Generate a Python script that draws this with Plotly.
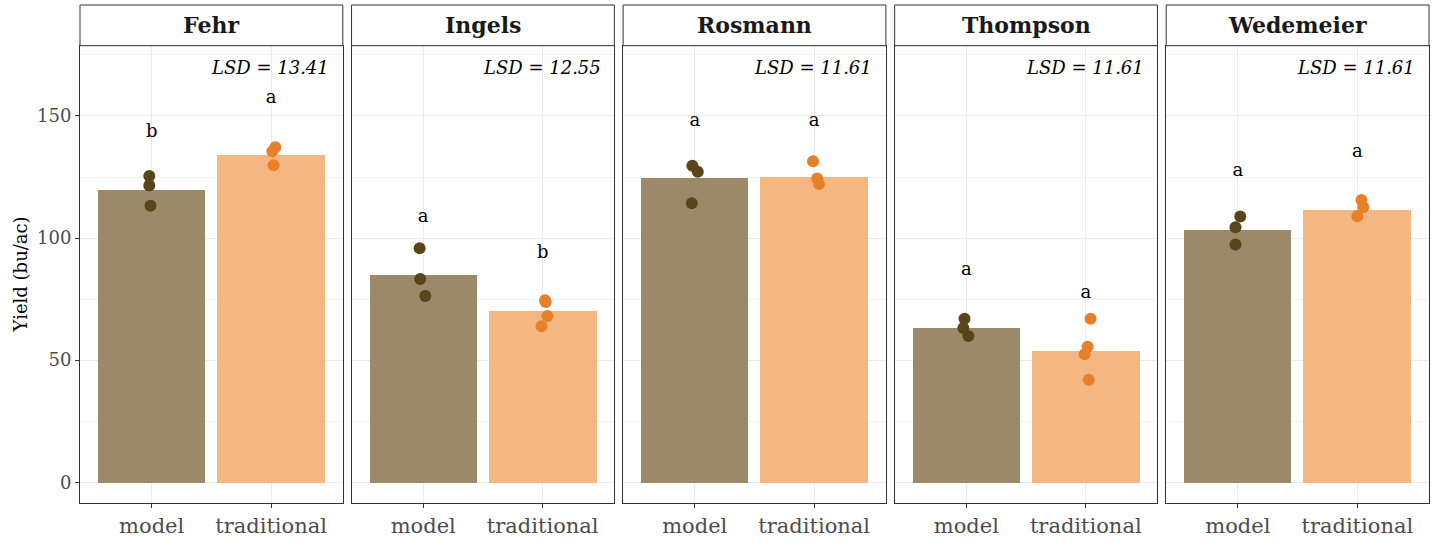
import plotly.graph_objects as go

sites = ["Fehr", "Ingels", "Rosmann", "Thompson", "Wedemeier"]
treatments = ["model", "traditional"]
lsd = [13.41, 12.55, 11.61, 11.61, 11.61]

bar_model = [120.0, 85.0, 124.7, 63.4, 103.4]
bar_trad = [134.0, 70.1, 125.0, 54.0, 111.5]

pts_model = [
    [125.4, 121.5, 113.2],
    [95.8, 83.2, 76.3],
    [129.6, 127.2, 114.3],
    [67.0, 63.2, 59.9],
    [108.8, 104.4, 97.4],
]
jit_model = [
    [-0.02, -0.02, -0.01],
    [-0.03, -0.025, 0.017],
    [-0.02, 0.025, -0.025],
    [-0.015, -0.025, 0.017],
    [0.02, -0.02, -0.02],
]
pts_trad = [
    [137.2, 135.6, 129.8],
    [74.5, 73.8, 68.1, 63.9],
    [131.5, 124.4, 122.1],
    [67.0, 55.5, 52.4, 42.0],
    [115.6, 112.6, 108.9],
]
jit_trad = [
    [0.035, 0.01, 0.02],
    [0.02, 0.025, 0.04, -0.01],
    [-0.01, 0.025, 0.04],
    [0.04, 0.015, -0.01, 0.025],
    [0.035, 0.05, 0.0],
]
letters_model = ["b", "a", "a", "a", "a"]
letters_trad = ["a", "b", "a", "a", "a"]
letter_y_model = [143.4, 108.6, 147.8, 86.6, 127.2]
letter_y_trad = [157.3, 93.6, 147.8, 77.4, 135.0]

C_MODEL_BAR = "#9B896A"
C_TRAD_BAR = "#F4B781"
C_MODEL_PT = "#59451A"
C_TRAD_PT = "#E8802A"
SERIF = "DejaVu Serif"

W, H = 1435, 543
ML, MR, MT, MB = 80, 5, 5, 36
PW = W - ML - MR
PH = H - MT - MB
panel_w = 263
panel_step = (PW - panel_w) / 4
strip_h = 41
ytop = (PH - strip_h) / PH

fig = go.Figure()
layout = dict(
    width=W, height=H,
    margin=dict(l=ML, r=MR, t=MT, b=MB),
    plot_bgcolor="white", paper_bgcolor="white",
    showlegend=False, bargap=0,
    font=dict(family=SERIF, color="#4D4D4D"),
)
annotations = []
shapes = []

for i, site in enumerate(sites):
    n = "" if i == 0 else str(i + 1)
    xa, ya = "x" + n, "y" + n
    x0 = i * panel_step / PW
    x1 = (i * panel_step + panel_w) / PW
    layout["xaxis" + n] = dict(
        domain=[x0, x1], range=[0.4, 2.6], anchor=ya,
        tickvals=[1, 2], ticktext=treatments,
        showgrid=True, gridcolor="#EBEBEB", gridwidth=1,
        showline=True, mirror=True, linecolor="#333333", linewidth=1,
        ticks="outside", ticklen=4, tickcolor="#333333",
        tickfont=dict(family=SERIF, size=21, color="#4D4D4D"),
        zeroline=False, fixedrange=True,
    )
    layout["yaxis" + n] = dict(
        domain=[0, ytop], range=[-8.5, 178.8], anchor=xa,
        tick0=0, dtick=50,
        showgrid=True, gridcolor="#EBEBEB", gridwidth=1,
        minor=dict(dtick=25, tick0=0, showgrid=True, gridcolor="#F3F3F3", gridwidth=0.6),
        showline=True, mirror=True, linecolor="#333333", linewidth=1,
        ticks="outside" if i == 0 else "", ticklen=4, tickcolor="#333333",
        showticklabels=(i == 0),
        tickfont=dict(family=SERIF, size=18, color="#4D4D4D"),
        zeroline=False, fixedrange=True,
    )
    fig.add_trace(go.Bar(x=[1], y=[bar_model[i]], width=0.9, marker=dict(color=C_MODEL_BAR, line=dict(width=0)), xaxis=xa, yaxis=ya))
    fig.add_trace(go.Bar(x=[2], y=[bar_trad[i]], width=0.9, marker=dict(color=C_TRAD_BAR, line=dict(width=0)), xaxis=xa, yaxis=ya))
    fig.add_trace(go.Scatter(x=[1 + j for j in jit_model[i]], y=pts_model[i], mode="markers",
                             marker=dict(color=C_MODEL_PT, size=12), xaxis=xa, yaxis=ya))
    fig.add_trace(go.Scatter(x=[2 + j for j in jit_trad[i]], y=pts_trad[i], mode="markers",
                             marker=dict(color=C_TRAD_PT, size=12), xaxis=xa, yaxis=ya))
    fig.add_trace(go.Scatter(x=[1, 2], y=[letter_y_model[i], letter_y_trad[i]], mode="text",
                             text=[letters_model[i], letters_trad[i]],
                             textfont=dict(family=SERIF, size=18, color="black"),
                             xaxis=xa, yaxis=ya))
    annotations.append(dict(
        xref=xa + " domain", yref=ya, x=0.955, y=169.8, xanchor="right", yanchor="middle",
        text="<i>LSD = %.2f</i>" % lsd[i], showarrow=False,
        font=dict(family=SERIF, size=18, color="black"),
    ))
    shapes.append(dict(type="rect", xref="paper", yref="paper", x0=x0, x1=x1, y0=ytop, y1=1,
                       line=dict(color="#333333", width=1), fillcolor="white", layer="above"))
    annotations.append(dict(
        xref="paper", yref="paper", x=(x0 + x1) / 2, y=(ytop + 1) / 2, xanchor="center", yanchor="middle",
        text="<b>%s</b>" % site, showarrow=False,
        font=dict(family=SERIF, size=22, color="#1A1A1A"),
    ))

annotations.append(dict(
    xref="paper", yref="paper", x=(20 - ML) / PW, y=ytop / 2, xanchor="center", yanchor="middle",
    text="Yield (bu/ac)", textangle=-90, showarrow=False,
    font=dict(family=SERIF, size=18, color="black"),
))
layout["annotations"] = annotations
layout["shapes"] = shapes
fig.update_layout(**layout)
fig.write_html("out.html", config={"displayModeBar": False},
               post_script="document.body.style.margin='0';document.body.style.overflow='hidden';")
